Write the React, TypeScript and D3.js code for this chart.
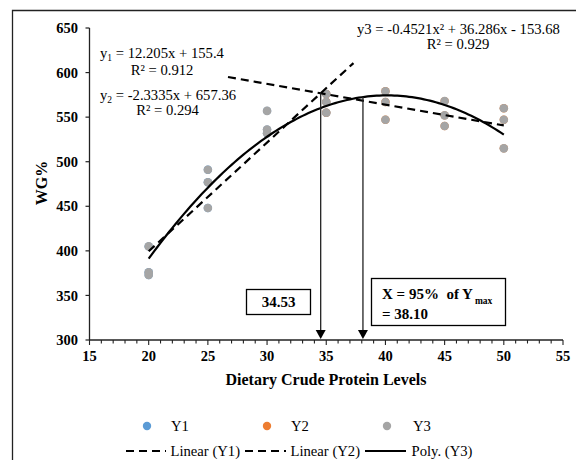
import React from "react";
import * as d3 from "d3";

// ---- Data ----
const levels = [20, 25, 30, 35, 40, 45, 50];
const y3Rep1 = [405, 491, 557, 576, 579, 568, 560];
const y3Rep2 = [376, 477, 536, 567, 567, 552, 547];
const y3Rep3 = [373, 448, 532, 555, 547, 540, 515];
const y1Levels = [20, 25, 30, 35];
const y2Levels = [35, 40, 45, 50];

// Trendline coefficients
const lin1 = { a: 12.205, b: 155.4, from: 20, to: 37.3 };
const lin2 = { a: -2.3335, b: 657.36, from: 26.7, to: 50 };
const poly3 = { a: -0.4521, b: 36.286, c: -153.68, from: 20, to: 50 };

const xTicks = [15, 20, 25, 30, 35, 40, 45, 50, 55];
const yTicks = [300, 350, 400, 450, 500, 550, 600, 650];
const arrowXs = [34.53, 38.1];

const FONT = "'Liberation Serif', 'Times New Roman', serif";

export default function App() {
  const W = 576, H = 460;
  const x = d3.scaleLinear().domain([15, 55]).range([89.5, 563]);
  const y = d3.scaleLinear().domain([300, 650]).range([340, 28]);

  const f1 = (v: number) => lin1.a * v + lin1.b;
  const f2 = (v: number) => lin2.a * v + lin2.b;
  const f3 = (v: number) => poly3.a * v * v + poly3.b * v + poly3.c;

  const line = d3.line<[number, number]>().x((d) => x(d[0])).y((d) => y(d[1]));
  const polyPts: [number, number][] = d3.range(poly3.from, poly3.to + 0.001, 0.25).map((v) => [v, f3(v)]);
  const lin1Pts: [number, number][] = [[lin1.from, f1(lin1.from)], [lin1.to, f1(lin1.to)]];
  const lin2Pts: [number, number][] = [[lin2.from, f2(lin2.from)], [lin2.to, f2(lin2.to)]];

  const reps = [y3Rep1, y3Rep2, y3Rep3];
  const minorTicks = d3.range(15, 55.001, 1);

  const arrowTops = [f1(arrowXs[0]), f3(arrowXs[1])];
  const L1 = 426, L2 = 451;

  return (
    <svg width={W} height={H} style={{ position: "absolute", left: 0, top: 0, background: "#fff" }}>
      <rect x={0} y={0} width={W} height={H} fill="#fff" />
      {/* frame */}
      <path d={`M12.5,${H} L12.5,10.5 L${W},10.5`} fill="none" stroke="#222" strokeWidth={1.3} />

      {/* y axis */}
      <line x1={x(15)} x2={x(15)} y1={y(300)} y2={y(650)} stroke="#222" strokeWidth={1.3} />
      {yTicks.map((t) => (
        <g key={t}>
          <line x1={x(15) - 4} x2={x(15)} y1={y(t)} y2={y(t)} stroke="#222" strokeWidth={1.2} />
          <text x={78} y={y(t)} dy="0.35em" textAnchor="end" fontFamily={FONT} fontWeight="bold" fontSize={14.5} fill="#000">
            {t}
          </text>
        </g>
      ))}

      {/* x axis */}
      <line x1={x(15)} x2={x(55)} y1={y(300)} y2={y(300)} stroke="#222" strokeWidth={1.3} />
      {minorTicks.map((t) => (
        <line key={t} x1={x(t)} x2={x(t)} y1={y(300)} y2={y(300) + (t % 5 === 0 ? 5 : 3.5)} stroke="#222" strokeWidth={1.1} />
      ))}
      {xTicks.map((t) => (
        <text key={t} x={x(t)} y={361} textAnchor="middle" fontFamily={FONT} fontWeight="bold" fontSize={14.5} fill="#000">
          {t}
        </text>
      ))}

      {/* axis titles */}
      <text x={326} y={385} textAnchor="middle" fontFamily={FONT} fontWeight="bold" fontSize={16} fill="#000">
        Dietary Crude Protein Levels
      </text>
      <text transform={`translate(47,183) rotate(-90)`} textAnchor="middle" fontFamily={FONT} fontWeight="bold" fontSize={16} fill="#000">
        WG%
      </text>

      {/* hidden Y1/Y2 points (covered by Y3) */}
      {y1Levels.map((lv) => {
        const i = levels.indexOf(lv);
        return reps.map((r, k) => <circle key={`a${lv}${k}`} cx={x(lv)} cy={y(r[i])} r={4.2} fill="#5B9BD5" />);
      })}
      {y2Levels.map((lv) => {
        const i = levels.indexOf(lv);
        return reps.map((r, k) => <circle key={`b${lv}${k}`} cx={x(lv)} cy={y(r[i])} r={4.2} fill="#ED7D31" />);
      })}
      {/* Y3 points */}
      {levels.map((lv, i) =>
        reps.map((r, k) => <circle key={`c${lv}${k}`} cx={x(lv)} cy={y(r[i])} r={4.3} fill="#A5A5A5" />)
      )}

      {/* trendlines */}
      <path d={line(lin1Pts) || ""} fill="none" stroke="#000" strokeWidth={2.2} strokeDasharray="8,5" />
      <path d={line(lin2Pts) || ""} fill="none" stroke="#000" strokeWidth={2.2} strokeDasharray="8,5" />
      <path d={line(polyPts) || ""} fill="none" stroke="#000" strokeWidth={2.2} />

      {/* arrows */}
      {arrowXs.map((ax, i) => (
        <g key={ax}>
          <line x1={x(ax)} x2={x(ax)} y1={y(arrowTops[i])} y2={y(300) - 6} stroke="#222" strokeWidth={1.3} />
          <path d={`M${x(ax) - 5},${y(300) - 10} L${x(ax) + 5},${y(300) - 10} L${x(ax)},${y(300) - 1} Z`} fill="#000" />
        </g>
      ))}

      {/* annotation boxes */}
      <rect x={246.5} y={289.5} width={64} height={25} fill="#fff" stroke="#000" strokeWidth={1.3} />
      <text x={278.5} y={307} textAnchor="middle" fontFamily={FONT} fontWeight="bold" fontSize={15} fill="#000">
        34.53
      </text>
      <rect x={371.5} y={278.5} width={134} height={47} fill="#fff" stroke="#000" strokeWidth={1.3} />
      <text x={382} y={298.5} fontFamily={FONT} fontWeight="bold" fontSize={15} fill="#000">
        X = 95%{"\u00a0"} of Y
        <tspan fontSize={9.5} dy={5} dx={2}>max</tspan>
      </text>
      <text x={382} y={318.5} fontFamily={FONT} fontWeight="bold" fontSize={15} fill="#000">
        = 38.10
      </text>

      {/* equations */}
      <text x={100} y={58} fontFamily={FONT} fontSize={14.67} fill="#000">
        y<tspan fontSize={9.5} dy={3}>1</tspan>
        <tspan dy={-3}> = 12.205x + 155.4</tspan>
      </text>
      <text x={162} y={74.5} textAnchor="middle" fontFamily={FONT} fontSize={14.67} fill="#000">
        R² = 0.912
      </text>
      <text x={100} y={100} fontFamily={FONT} fontSize={14.67} fill="#000">
        y<tspan fontSize={9.5} dy={3}>2</tspan>
        <tspan dy={-3}> = -2.3335x + 657.36</tspan>
      </text>
      <text x={167.5} y={115} textAnchor="middle" fontFamily={FONT} fontSize={14.67} fill="#000">
        R² = 0.294
      </text>
      <text x={357} y={33.5} fontFamily={FONT} fontSize={14.67} fill="#000">
        y3 = -0.4521x² + 36.286x - 153.68
      </text>
      <text x={458} y={48.5} textAnchor="middle" fontFamily={FONT} fontSize={14.67} fill="#000">
        R² = 0.929
      </text>

      {/* legend */}
      <circle cx={147} cy={L1} r={4.2} fill="#5B9BD5" />
      <text x={171} y={L1} dy="0.35em" fontFamily={FONT} fontSize={14.67} fill="#000">Y1</text>
      <circle cx={267} cy={L1} r={4.2} fill="#ED7D31" />
      <text x={291} y={L1} dy="0.35em" fontFamily={FONT} fontSize={14.67} fill="#000">Y2</text>
      <circle cx={387} cy={L1} r={4.2} fill="#A5A5A5" />
      <text x={413} y={L1} dy="0.35em" fontFamily={FONT} fontSize={14.67} fill="#000">Y3</text>

      <line x1={126} x2={166} y1={L2} y2={L2} stroke="#000" strokeWidth={2.2} strokeDasharray="8,5" />
      <text x={170.5} y={L2} dy="0.35em" fontFamily={FONT} fontSize={14.67} fill="#000">Linear (Y1)</text>
      <line x1={245} x2={286} y1={L2} y2={L2} stroke="#000" strokeWidth={2.2} strokeDasharray="8,5" />
      <text x={290.5} y={L2} dy="0.35em" fontFamily={FONT} fontSize={14.67} fill="#000">Linear (Y2)</text>
      <line x1={365} x2={406} y1={L2} y2={L2} stroke="#000" strokeWidth={2.2} />
      <text x={411.5} y={L2} dy="0.35em" fontFamily={FONT} fontSize={14.67} fill="#000">Poly. (Y3)</text>
    </svg>
  );
}
